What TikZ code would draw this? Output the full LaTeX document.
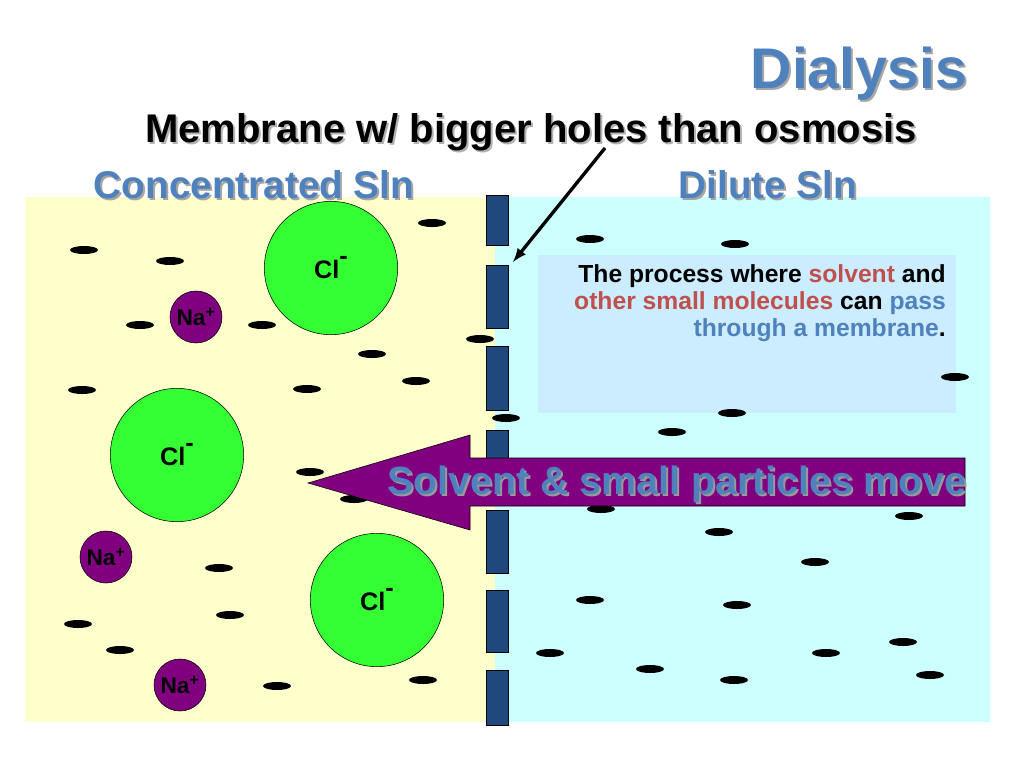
\documentclass[tikz,border=0pt]{standalone}
\usepackage{fontspec}
\setmainfont{Liberation Sans}
\usetikzlibrary{shapes.geometric}
\definecolor{titleblue}{RGB}{79,129,189}
\definecolor{lefty}{RGB}{255,255,204}
\definecolor{rightc}{RGB}{204,255,255}
\definecolor{boxblue}{RGB}{204,236,255}
\definecolor{membr}{RGB}{31,73,125}
\definecolor{clgreen}{RGB}{51,255,51}
\definecolor{napurple}{RGB}{128,0,128}
\definecolor{solvred}{RGB}{192,80,77}
\tikzset{
  dash particle/.style={fill=black,ellipse,minimum width=21pt,minimum height=6pt,inner sep=0pt},
  chloride/.style={circle,draw=black,fill=clgreen,minimum size=100pt,inner sep=0pt,font=\bfseries\fontsize{19}{19}\selectfont},
  sodium/.style={circle,draw=black,fill=napurple,minimum size=39pt,inner sep=0pt,font=\bfseries\fontsize{17}{17}\selectfont},
  heading/.style={text=titleblue,font=\bfseries\fontsize{29}{29}\selectfont},
  membrane piece/.style={fill=membr,draw=black,line width=0.4pt}
}
\begin{document}
\begin{tikzpicture}[x=0.75pt,y=0.75pt,yscale=-1,xscale=1]
\useasboundingbox (0,0) rectangle (1024,768);
\fill[white] (0,0) rectangle (1024,768);

% solutions
\fill[lefty] (25,197) rectangle (495,722);
\fill[rightc] (495,197) rectangle (990,722);

% text box
\fill[boxblue] (538,255) rectangle (956,413);

% membrane
\foreach \ya/\yb in {195/245,265/328,346/410,430/490,510/573,590/652,670/725}
  \draw[membrane piece] (486,\ya) rectangle (508,\yb);

% small particles
\foreach \px/\py [count=\i] in {432/223,84/250,170/261,140/325,262/325,372/354,480/339,82/390,307/389,416/381,310/472,354/499,219/568,230/615,78/624,120/650,277/686,423/680,590/239,735/244,955/377,732/413,506/418,672/432,601/509,909/516,719/532,815/562,590/600,737/605,903/642,550/653,650/669,826/653,734/680,930/675}
  \node[dash particle] (p\i) at (\px,\py) {};

% ions
\node[chloride] (cl1) at (331,268) {Cl\raisebox{0.55em}{-}};
\node[chloride] (cl2) at (177,455) {Cl\raisebox{0.55em}{-}};
\node[chloride] (cl3) at (377,600) {Cl\raisebox{0.55em}{-}};
\node[sodium] (na1) at (196,317) {Na\textsuperscript{+}};
\node[sodium] (na2) at (106,557) {Na\textsuperscript{+}};
\node[sodium] (na3) at (180,685) {Na\textsuperscript{+}};

% big arrow
\draw[fill=napurple,draw=black] (965,458) -- (470,458) -- (470,435) -- (308,483) -- (470,530) -- (470,506) -- (965,506) -- cycle;
\node[text=black!40,font=\bfseries\fontsize{29.5}{29.5}\selectfont] at (679,486) {Solvent \& small particles move};
\node[text=titleblue,font=\bfseries\fontsize{29.5}{29.5}\selectfont] (move) at (677,484) {Solvent \& small particles move};

% titles
\node[text=black!35,font=\bfseries\fontsize{43}{43}\selectfont] at (861,76) {Dialysis};
\node[heading,font=\bfseries\fontsize{43}{43}\selectfont] (title) at (859,74) {Dialysis};
\node[text=black!30,font=\bfseries\fontsize{30}{30}\selectfont] at (533,134) {Membrane w/ bigger holes than osmosis};
\node[font=\bfseries\fontsize{30}{30}\selectfont] (sub) at (531,132) {Membrane w/ bigger holes than osmosis};
\node[text=black!35,font=\bfseries\fontsize{29}{29}\selectfont] at (256,187) {Concentrated Sln};
\node[heading] (conc) at (254,185) {Concentrated Sln};
\node[text=black!35,font=\bfseries\fontsize{29}{29}\selectfont] at (770,187) {Dilute Sln};
\node[heading] (dil) at (768,185) {Dilute Sln};
\coordinate (hole) at (513,262);
\coordinate (pointer) at (605,148);
\draw[-latex,line width=2.5pt] (pointer) -- (hole);

% description
\node[anchor=north east,align=right,inner sep=0pt,font=\bfseries\fontsize{18.5}{20.5}\selectfont] (desc) at (946,264)
  {The process where \textcolor{solvred}{solvent} and\\
   \textcolor{solvred}{other small molecules} can \textcolor{titleblue}{pass}\\
   \textcolor{titleblue}{through a membrane}.};
\end{tikzpicture}
\end{document}
